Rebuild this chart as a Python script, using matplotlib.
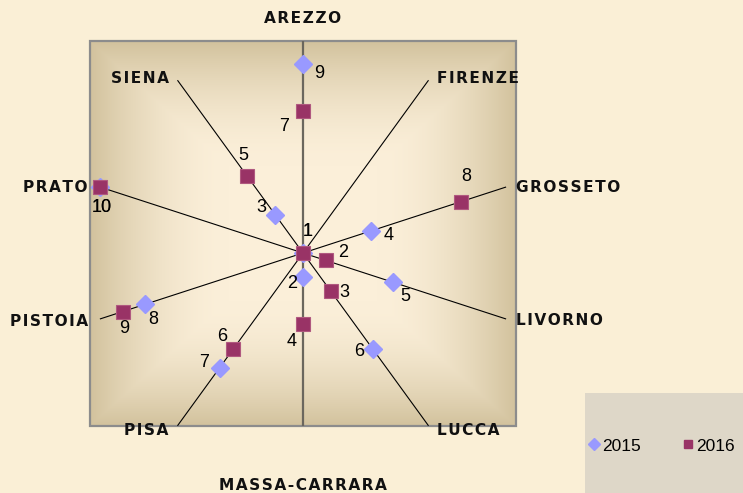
import numpy as np
import matplotlib
matplotlib.use('Agg')
import matplotlib.pyplot as plt
from matplotlib.patches import Rectangle
from matplotlib.lines import Line2D

# ---------------- data ----------------
provinces = ['AREZZO', 'FIRENZE', 'GROSSETO', 'LIVORNO', 'LUCCA',
             'MASSA-CARRARA', 'PISA', 'PISTOIA', 'PRATO', 'SIENA']
rank_2015 = [9, 1, 4, 5, 6, 2, 7, 8, 10, 3]
rank_2016 = [7, 1, 8, 2, 3, 4, 6, 9, 10, 5]
series_names = ['2015', '2016']

# ---------------- styles / label placement (pixels, y down) ----------------
off_2015 = [(16, 10), (5, -21), (18, 4), (12, 14), (-13, 3), (-11, 7),
            (-15, -5), (8, 15), (1, 20), (-14, -7)]
off_2016 = [(-19, 15), (5, -21), (6, -25), (18, -8), (14, 1), (-11, 18),
            (-11, -12), (1, 17), (1, 20), (-4, -21)]
cat_off = [(0, -22, 'center'), (9, -2, 'left'), (10, 0, 'left'), (10, 2, 'left'),
           (9, 5, 'left'), (0, 19, 'center'), (-9, 5, 'right'), (-12, 3, 'right'),
           (-13, 0, 'right'), (-9, -2, 'right')]

C2015 = '#9999FF'
C2016 = '#993366'
BG = '#FAEFD6'
HAIR = '\u200a'

W, H = 743, 493
fig = plt.figure(figsize=(W / 100, H / 100), dpi=100)
fig.patch.set_facecolor(BG)

# background axes in pixel coordinates (y down)
bg = fig.add_axes([0, 0, 1, 1])
bg.set_xlim(0, W)
bg.set_ylim(H, 0)
bg.axis('off')

bx0, by0, bx1, by1 = 90, 41, 516, 426
# gradient fill of the plot area (light centre, tan edges)
nx, ny = 426, 385
u = np.linspace(-1, 1, nx)[None, :]
v = np.linspace(-1, 1, ny)[:, None]
t = np.maximum(np.abs(u), np.abs(v))
f = np.clip((t - 0.35) / 0.65, 0, 1) ** 1.8
light = np.array(matplotlib.colors.to_rgb('#FBEFD9'))
dark = np.array(matplotlib.colors.to_rgb('#D2C29D'))
img = light[None, None, :] * (1 - f[..., None]) + dark[None, None, :] * f[..., None]
bg.imshow(img, extent=(bx0, bx1, by1, by0), origin='upper', aspect='auto',
          interpolation='bilinear', zorder=1)
bg.add_patch(Rectangle((bx0, by0), bx1 - bx0, by1 - by0, fill=False,
                       ec='#8C8C8C', lw=1.6, zorder=2))
# legend background
bg.add_patch(Rectangle((585, 393), 160, 100, fc='#DED7C8', ec='none', zorder=1))
bg.set_xlim(0, W)
bg.set_ylim(H, 0)

clip_rect = Rectangle((bx0, by0), bx1 - bx0, by1 - by0, transform=bg.transData)

# radar (polar) axes
cx, cy, R = 303, 253, 213
ax = fig.add_axes([(cx - R) / W, (H - cy - R) / H, 2 * R / W, 2 * R / H],
                  projection='polar')
ax.set_theta_zero_location('N')
ax.set_theta_direction(-1)
ax.set_ylim(1, 10)
ax.patch.set_alpha(0)
ax.grid(False)
ax.set_xticks([])
ax.set_yticks([])
ax.spines['polar'].set_visible(False)

n = len(provinces)
theta = np.arange(n) * 2 * np.pi / n

for i, th in enumerate(theta):
    if i in (0, 5):
        ln, = ax.plot([th, th], [1, 10], color='#6B675E', lw=1.6, zorder=2,
                      clip_on=False)
        ln.set_clip_path(clip_rect)
        ln.set_clip_on(True)
    else:
        ax.plot([th, th], [1, 10], color='black', lw=0.8, zorder=2, clip_on=False)

ax.plot(theta, rank_2015, ls='none', marker='D', ms=9, color=C2015,
        mec=C2015, zorder=3, clip_on=False)
ax.plot(theta, rank_2016, ls='none', marker='s', ms=10, mfc=C2016,
        mec='#B0587F', mew=0.8, zorder=4, clip_on=False)

num_font = dict(family='Liberation Sans', fontsize=13, color='black')
for th, val, (dx, dy) in zip(theta, rank_2015, off_2015):
    ax.annotate(str(val), xy=(th, val), xytext=(dx, -dy), textcoords='offset pixels',
                ha='center', va='center', annotation_clip=False, zorder=5, **num_font)
for th, val, (dx, dy) in zip(theta, rank_2016, off_2016):
    ax.annotate(str(val), xy=(th, val), xytext=(dx, -dy), textcoords='offset pixels',
                ha='center', va='center', annotation_clip=False, zorder=5, **num_font)

for th, name, (dx, dy, ha) in zip(theta, provinces, cat_off):
    ax.annotate(HAIR.join(name), xy=(th, 10), xytext=(dx, -dy), textcoords='offset pixels',
                ha=ha, va='center', annotation_clip=False, family=['DejaVu Sans'],
                fontweight='bold', fontsize=11.1, color='#111111')

handles = [Line2D([], [], ls='none', marker='D', ms=6, color=C2015),
           Line2D([], [], ls='none', marker='s', ms=6, color=C2016)]
fig.legend(handles, series_names, loc='center left',
           bbox_to_anchor=(588 / W, 1 - 446 / H), ncol=2, frameon=False,
           handlelength=0.7, handletextpad=0.1, columnspacing=2.4,
           borderpad=0, borderaxespad=0,
           prop={'family': 'Liberation Sans', 'size': 12.5})

fig.savefig('out.png', dpi=100, facecolor=BG)
